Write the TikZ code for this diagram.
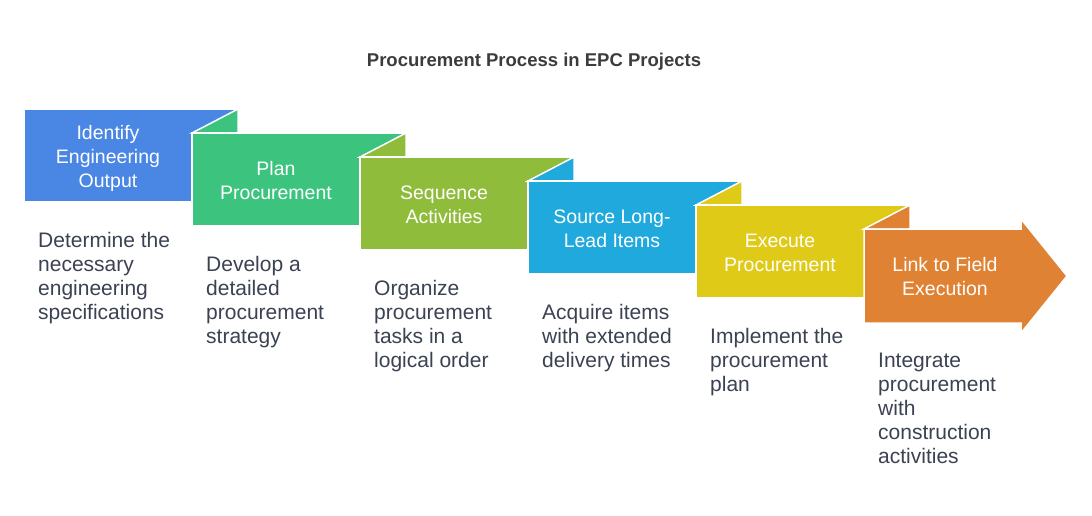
\documentclass[tikz,border=0pt]{standalone}
\usepackage{fontspec}
\setmainfont{Liberation Sans}
\definecolor{cblue}{HTML}{4A86E4}
\definecolor{cgreen}{HTML}{3CC47F}
\definecolor{colive}{HTML}{8FBC3A}
\definecolor{ccyan}{HTML}{20A9DC}
\definecolor{cyellow}{HTML}{DFCA17}
\definecolor{corange}{HTML}{E08233}
\definecolor{desccol}{HTML}{3B4252}
\definecolor{titlecol}{HTML}{3C3C3C}
\begin{document}
\begin{tikzpicture}[x=1pt,y=-1pt,
  stepshape/.style={draw=white, line width=1.5pt, line join=miter},
  lbl/.style={text=white, font=\fontsize{19.5}{24}\selectfont, align=center, anchor=base, inner sep=0pt},
  desc/.style={text=desccol, font=\fontsize{21}{24}\selectfont, align=left, anchor=base west, inner sep=0pt},
  ttl/.style={text=titlecol, font=\fontsize{18.5}{22}\selectfont\bfseries, anchor=base, inner sep=0pt}]
\useasboundingbox[fill=white] (0,0) rectangle (1092,516);

\node[ttl] (title) at (534,67) {Procurement Process in EPC Projects};

% step 1
\fill[cblue, stepshape] (24,109) rectangle (238,202);
% step 2
\fill[cgreen, stepshape] (192,133) -- (238,109) -- (238,133) -- cycle;
\fill[cgreen, stepshape] (192,133) rectangle (406,226);
% step 3
\fill[colive, stepshape] (360,157) -- (406,133) -- (406,157) -- cycle;
\fill[colive, stepshape] (360,157) rectangle (574,250);
% step 4
\fill[ccyan, stepshape] (528,181) -- (574,157) -- (574,181) -- cycle;
\fill[ccyan, stepshape] (528,181) rectangle (742,274);
% step 5
\fill[cyellow, stepshape] (696,205) -- (742,181) -- (742,205) -- cycle;
\fill[cyellow, stepshape] (696,205) rectangle (910,298);
% step 6 (arrow)
\fill[corange, stepshape] (864,229) -- (910,205) -- (910,229) -- cycle;
\fill[corange, stepshape] (864,229) -- (1021,229) -- (1021,219) -- (1067,276)
  -- (1021,333) -- (1021,323) -- (864,323) -- cycle;

% labels (anchor = baseline of last line)
\node[lbl] (l1) at (108,187.5) {Identify\\Engineering\\Output};
\node[lbl] (l2) at (276,199.5) {Plan\\Procurement};
\node[lbl] (l3) at (444,223.5) {Sequence\\Activities};
\node[lbl] (l4) at (612,247.5) {Source Long-\\Lead Items};
\node[lbl] (l5) at (780,271.5) {Execute\\Procurement};
\node[lbl] (l6) at (945,295.5) {Link to Field\\Execution};

% descriptions (anchor = baseline of last line)
\node[desc] (d1) at (38,319) {Determine the\\necessary\\engineering\\specifications};
\node[desc] (d2) at (206,343) {Develop a\\detailed\\procurement\\strategy};
\node[desc] (d3) at (374,367) {Organize\\procurement\\tasks in a\\logical order};
\node[desc] (d4) at (542,367) {Acquire items\\with extended\\delivery times};
\node[desc] (d5) at (710,391) {Implement the\\procurement\\plan};
\node[desc] (d6) at (878,463) {Integrate\\procurement\\with\\construction\\activities};
\end{tikzpicture}
\end{document}
